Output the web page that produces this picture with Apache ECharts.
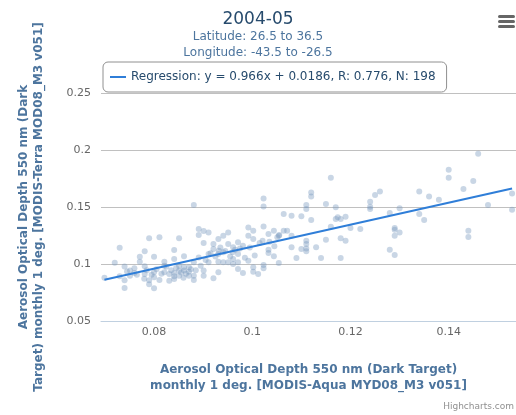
<!DOCTYPE html>
<html><head><meta charset="utf-8">
<script src="https://cdn.jsdelivr.net/npm/echarts@6/dist/echarts.min.js"></script>
<style>html,body{margin:0;padding:0;background:#fff}#c{width:516px;height:415px}</style>
</head><body><div id="c"></div>
<script>
// ---- data ----
const chartTitle = '2004-05';
const subtitleLines = ['Latitude: 26.5 to 36.5', 'Longitude: -43.5 to -26.5'];
const xAxisTitle = 'Aerosol Optical Depth 550 nm (Dark Target)\nmonthly 1 deg. [MODIS-Aqua MYD08_M3 v051]';
const yAxisTitle = 'Aerosol Optical Depth 550 nm (Dark\nTarget) monthly 1 deg. [MODIS-Terra MOD08_M3 v051]';
const xTickValues = [0.08, 0.1, 0.12, 0.14];
const yTickValues = [0.05, 0.1, 0.15, 0.2, 0.25];
const regressionSlope = 0.966;
const regressionIntercept = 0.0186;
const regressionR = 0.776;
const regressionN = 198;

const scatterX = [
0.0699,0.0720,0.0730,0.0730,0.0740,0.0740,0.0740,0.0751,0.0751,0.0760,
0.0760,0.0771,0.0771,0.0781,0.0781,0.0781,0.0790,0.0790,0.0790,0.0800,
0.0800,0.0800,0.0800,0.0811,0.0811,0.0821,0.0821,0.0821,0.0831,0.0831,
0.0841,0.0841,0.0841,0.0841,0.0841,0.0851,0.0851,0.0851,0.0851,0.0861,
0.0861,0.0861,0.0871,0.0871,0.0871,0.0881,0.0881,0.0881,0.0881,0.0891,
0.0891,0.0891,0.0901,0.0901,0.0901,0.0901,0.0911,0.0911,0.0911,0.0921,
0.0921,0.0921,0.0931,0.0931,0.0931,0.0931,0.0941,0.0941,0.0941,0.0951,
0.0951,0.0951,0.0961,0.0961,0.0961,0.0971,0.0971,0.0971,0.0971,0.0981,
0.0981,0.0992,0.0992,0.0992,0.1002,0.1002,0.1002,0.1002,0.1012,0.1023,
0.1023,0.1023,0.1023,0.1023,0.1033,0.1033,0.1033,0.1044,0.1044,0.1054,
0.1054,0.1064,0.1064,
0.1080,0.1080,0.1080,0.1090,0.1100,0.1100,0.1110,0.1110,0.1110,0.1110,
0.1110,0.1110,0.1120,0.1120,0.1120,0.1130,0.1140,0.1150,0.1150,0.1160,
0.1160,0.1170,0.1170,0.1180,0.1180,0.1180,0.1190,0.1190,0.1200,0.1220,
0.1240,0.1240,0.1240,0.1250,0.1260,0.1280,0.1280,0.1290,0.1290,0.1290,
0.1290,0.1300,0.1300,0.1340,0.1340,0.1350,0.1360,0.1380,0.1400,0.1400,
0.1430,0.1440,0.1440,0.1450,0.1460,0.1480,0.1529,0.1529,
0.0745,0.0765,0.0785,0.0795,0.0805,0.0815,0.0825,0.0835,0.0845,0.0855,
0.0865,0.0875,0.0885,0.0895,0.0905,0.0915,0.0925,0.0935,0.0945,0.0955,
0.0965,0.0975,0.0985,0.0995,0.1005,0.1015,0.1035,0.1045,0.1055,
0.1071,0.1051,0.1021,0.0960,0.0932,0.1174,0.0780,0.0860
];
const scatterY = [
0.0880,0.1010,0.1143,0.0892,0.0977,0.0857,0.0790,0.0898,0.0942,0.0962,
0.0921,0.1020,0.1064,0.1111,0.0912,0.0980,0.1225,0.0857,0.0822,0.1064,
0.0927,0.0883,0.0787,0.1234,0.0860,0.1020,0.0985,0.0927,0.0854,0.0912,
0.1123,0.1044,0.0921,0.0869,0.0892,0.1225,0.0985,0.0898,0.0942,0.1067,
0.0971,0.0942,0.0971,0.0898,0.0933,0.1517,0.0898,0.0860,0.1015,0.1307,
0.1254,0.1058,0.1290,0.1184,0.0942,0.0898,0.1277,0.1088,0.1015,0.0874,
0.1175,0.1131,0.1219,0.1088,0.1020,0.0927,0.1248,0.1015,0.1102,0.1277,
0.1175,0.1015,0.1146,0.1044,0.1000,0.1190,0.1015,0.0956,0.1088,0.1161,
0.0921,0.1321,0.1248,0.1029,0.1292,0.1219,0.0971,0.0933,0.0912,0.1575,
0.1505,0.1330,0.0991,0.0962,0.1263,0.1126,0.1096,0.1292,0.1067,0.1009,
0.1248,0.1438,0.1292,
0.1424,0.1248,0.1146,0.1053,0.1418,0.1131,0.1517,0.1482,0.1204,0.1175,
0.1137,0.1111,0.1628,0.1593,0.1385,0.1146,0.1053,0.1526,0.1213,0.1757,
0.1327,0.1497,0.1394,0.1394,0.1225,0.1053,0.1415,0.1204,0.1315,0.1307,
0.1547,0.1503,0.1482,0.1605,0.1637,0.1447,0.1126,0.1315,0.1301,0.1248,
0.1079,0.1488,0.1277,0.1637,0.1438,0.1385,0.1593,0.1564,0.1827,0.1757,
0.1658,0.1292,0.1237,0.1728,0.1967,0.1517,0.1619,0.1476,
0.0935,0.0905,0.0945,0.0905,0.0955,0.0915,0.0975,0.0945,0.0965,0.0925,
0.0915,0.0955,0.0945,0.0985,0.1035,0.1095,0.1065,0.1145,0.1115,0.1065,
0.1125,0.1135,0.1055,0.1145,0.1075,0.1185,0.1195,0.1155,0.1255,
0.1292,0.1234,0.1204,0.1102,0.1117,0.1410,0.0870,0.0880
];

// ---- build ----
const FONT = '"DejaVu Sans", Verdana, Arial, sans-serif';
const scatterData = scatterX.map((x, i) => [x, scatterY[i]]);
const xMinData = Math.min(...scatterX), xMaxData = Math.max(...scatterX);
const regLine = [xMinData, xMaxData].map(x => [x, regressionSlope * x + regressionIntercept]);
const legendName = 'Regression: y = ' + regressionSlope + 'x + ' + regressionIntercept +
  ', R: ' + regressionR + ', N: ' + regressionN;

const chart = echarts.init(document.getElementById('c'), null, {renderer: 'canvas'});
chart.setOption({
  animation: false,
  backgroundColor: '#ffffff',
  textStyle: {fontFamily: FONT},
  title: {
    text: chartTitle,
    subtext: subtitleLines.join('\n'),
    left: 'center', top: 0,
    padding: [11, 15, 0, 5],
    itemGap: 1,
    textStyle: {color: '#274b6d', fontSize: 17, fontWeight: 'normal', fontFamily: FONT},
    subtextStyle: {color: '#4d759e', fontSize: 12, lineHeight: 16, fontFamily: FONT}
  },
  legend: {
    data: [{name: legendName, icon: 'rect'}],
    left: 103, top: 62,
    padding: [9, 11, 9, 7],
    borderColor: '#909090', borderWidth: 1, borderRadius: 5,
    itemWidth: 16, itemHeight: 2,
    textStyle: {color: '#274b6d', fontSize: 12, fontFamily: FONT},
    selectedMode: false
  },
  grid: {left: 101, top: 93, width: 415, height: 228, containLabel: false},
  xAxis: {
    type: 'value', min: 0.0692, max: 0.1537,
    name: xAxisTitle, nameLocation: 'middle', nameGap: 41,
    nameTextStyle: {color: '#4d759e', fontWeight: 'bold', fontSize: 12, lineHeight: 16, fontFamily: FONT},
    axisLine: {show: true, lineStyle: {color: '#C0D0E0', width: 1}},
    axisTick: {show: false},
    splitLine: {show: false},
    axisLabel: {customValues: xTickValues, color: '#666666', fontSize: 11, margin: 6, fontFamily: FONT}
  },
  yAxis: {
    type: 'value', min: yTickValues[0], max: yTickValues[yTickValues.length - 1], interval: 0.05,
    name: yAxisTitle, nameLocation: 'middle', nameGap: 55, nameRotate: 90,
    nameTextStyle: {color: '#4d759e', fontWeight: 'bold', fontSize: 12, lineHeight: 15, fontFamily: FONT},
    axisLine: {show: false},
    axisTick: {show: false},
    splitLine: {show: true, lineStyle: {color: '#C0C0C0', width: 1}},
    axisLabel: {color: '#666666', fontSize: 11, margin: 10, fontFamily: FONT}
  },
  series: [
    {
      type: 'scatter', name: 'data', data: scatterData,
      symbolSize: 6,
      itemStyle: {color: 'rgba(119,152,191,0.5)'},
      emphasis: {disabled: true}
    },
    {
      type: 'line', name: legendName, data: regLine,
      showSymbol: false, symbol: 'none',
      lineStyle: {color: '#2f7ed8', width: 2},
      itemStyle: {color: '#2f7ed8'},
      emphasis: {disabled: true}
    }
  ],
  graphic: [
    {type: 'rect', shape: {x: 498, y: 15, width: 17, height: 3, r: 1.5}, style: {fill: '#666666'}},
    {type: 'rect', shape: {x: 498, y: 20, width: 17, height: 3, r: 1.5}, style: {fill: '#666666'}},
    {type: 'rect', shape: {x: 498, y: 25, width: 17, height: 3, r: 1.5}, style: {fill: '#666666'}},
    {type: 'text', right: 2, top: 402, style: {text: 'Highcharts.com', fill: '#909090', font: '9px ' + FONT}}
  ]
});
</script>
</body></html>
